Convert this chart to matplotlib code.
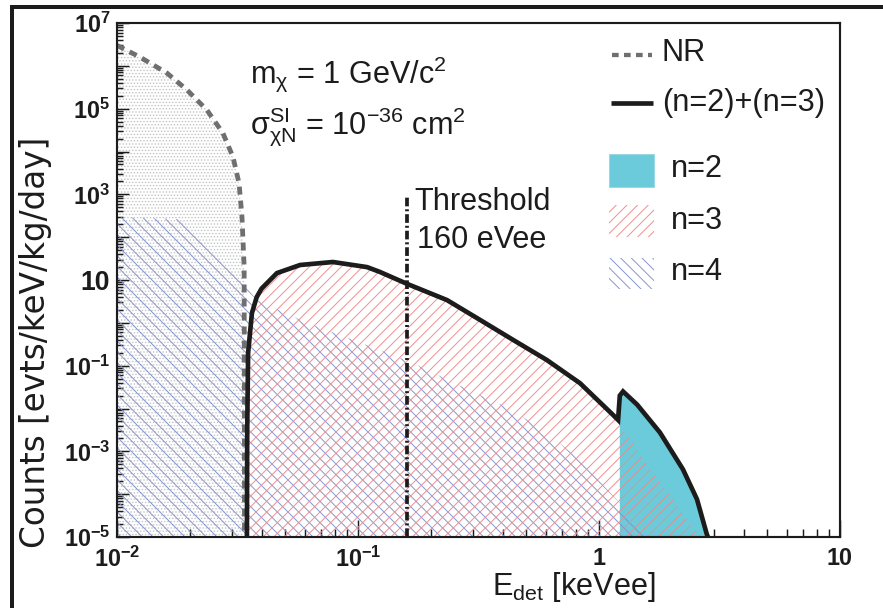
import matplotlib
matplotlib.use("Agg")
import matplotlib.pyplot as plt
from matplotlib.lines import Line2D
from matplotlib.patches import Rectangle
from matplotlib.ticker import FixedLocator, FixedFormatter, NullFormatter

# ---------------- data (E in keVee, rate in evts/keV/kg/day) ----------------
nr_energy = [0.0100, 0.01245, 0.0161, 0.0195, 0.0236, 0.0275, 0.0303, 0.0321, 0.0330, 0.0337, 0.0338]
nr_rate = [3.0e6, 1.6e6, 6.8e5, 2.75e5, 9.3e4, 2.7e4, 7.4e3, 1.8e3, 3.0e2, 2.0e1, 1e-5]

n4_energy = [0.0100, 0.0182, 0.0207, 0.0333, 0.0381, 0.0614, 0.0953, 0.123, 0.169, 0.273, 0.440, 0.644, 0.834, 1.19, 1.63]
n4_rate = [295, 263, 148, 8.5, 3.4, 1.0, 0.40, 0.234, 0.115, 0.0316, 9.1e-3, 2.1e-3, 6.3e-4, 7.2e-5, 1e-5]

n3_energy = [0.0346, 0.0347, 0.0350, 0.0363, 0.0380, 0.0398, 0.0461, 0.0575, 0.0787, 0.109, 0.123,
             0.160, 0.234, 0.321, 0.440, 0.608, 0.834, 1.143, 1.20, 1.22, 1.79, 2.62]
n3_rate = [1e-5, 3.2e-3, 0.20, 1.7, 4.0, 6.3, 14.5, 22.4, 26.3, 20.0, 15.5,
           8.1, 3.4, 1.17, 0.40, 0.135, 0.039, 7.1e-3, 5.4e-3, 4.0e-3, 1.95e-4, 1e-5]

n2_energy = [1.22, 1.258, 1.44, 1.79, 2.23, 2.55, 2.80, 2.83]
n2_rate = [0.020, 0.025, 0.0123, 2.75e-3, 3.8e-4, 7.6e-5, 1.17e-5, 1e-5]

threshold_kev = 0.16
threshold_top = 9e2

x_range = (0.01, 10.0)
y_range = (1e-5, 1e7)

x_major = [0.01, 0.1, 1.0, 10.0]
x_labels = [r"$\mathbf{10^{-2}}$", r"$\mathbf{10^{-1}}$", "1", "10"]
y_major = [10.0 ** k for k in range(-5, 8)]
y_labels = {7: r"$\mathbf{10^{7}}$", 5: r"$\mathbf{10^{5}}$", 3: r"$\mathbf{10^{3}}$", 1: "10",
            -1: r"$\mathbf{10^{-1}}$", -3: r"$\mathbf{10^{-3}}$", -5: r"$\mathbf{10^{-5}}$"}

# ---------------- style ----------------
W, H, DPI = 883, 608, 96
plt.rcParams.update({
    "font.family": ["Liberation Sans", "DejaVu Sans"],
    "mathtext.fontset": "custom",
    "mathtext.rm": "Liberation Sans",
    "mathtext.it": "Liberation Sans:italic",
    "mathtext.bf": "Liberation Sans:bold",
    "hatch.linewidth": 0.7,
    "lines.scale_dashes": False,
})

INK = "#1c1c1c"
CYAN = "#6ccbdb"
RED_HATCH = "#ef8a8a"
BLUE_HATCH = "#8392cc"
NR_GREY = "#6f6f6f"
RED_PATTERN = "///"
BLUE_PATTERN = "\\\\\\"


def fx(px):
    return px / W


def fy(py):
    return 1.0 - py / H


fig = plt.figure(figsize=(W / DPI, H / DPI), dpi=DPI)
ax = fig.add_axes([fx(117), fy(537), fx(840) - fx(117), fy(23) - fy(537)])
ax.set_xscale("log")
ax.set_yscale("log")
ax.set_xlim(*x_range)
ax.set_ylim(*y_range)

# NR spectrum: stippled area under the dashed curve
ax.fill_between(nr_energy, y_range[0], nr_rate, facecolor="none", edgecolor="#c4c4c4",
                hatch=".....", linewidth=0, zorder=1)
# n=2 solid fill
ax.fill_between(n2_energy, y_range[0], n2_rate, facecolor=CYAN, edgecolor="none",
                linewidth=0, zorder=2)
# n=4 and n=3 hatched areas
ax.fill_between(n4_energy, y_range[0], n4_rate, facecolor="none", edgecolor=BLUE_HATCH,
                hatch=BLUE_PATTERN, linewidth=0, zorder=3)
ax.fill_between(n3_energy, y_range[0], n3_rate, facecolor="none", edgecolor=RED_HATCH,
                hatch=RED_PATTERN, linewidth=0, zorder=4)

# NR dashed curve
ax.plot(nr_energy, nr_rate, color=NR_GREY, lw=3.6, dashes=(6, 4.5), solid_capstyle="butt",
        dash_capstyle="butt", zorder=5)

# (n=2)+(n=3): n=3 below the n=2 onset, then the n=2 dominated part
onset = n2_energy[0]
sum_energy = [e for e in n3_energy if e < onset] + n2_energy
sum_rate = [r for e, r in zip(n3_energy, n3_rate) if e < onset] + n2_rate
ax.plot(sum_energy, sum_rate, color=INK, lw=3.5, solid_joinstyle="miter", zorder=6)

# analysis threshold
ax.vlines(threshold_kev, y_range[0], threshold_top, colors=INK, lw=2.8,
          linestyles=[(0, (6.5, 2.2, 1.5, 2.2))], zorder=7)
fig.text(fx(414), fy(210), "Threshold", fontsize=23, color=INK, ha="left", va="baseline")
fig.text(fx(417), fy(248), "160 eVee", fontsize=23, color=INK, ha="left", va="baseline")

# benchmark parameters
fig.text(fx(250), fy(83), r"m$_{\mathrm{\chi}}$ = 1 GeV/c$^{2}$",
         fontsize=23, color=INK, ha="left", va="baseline")
fig.text(fx(250), fy(134), r"$\mathrm{\sigma}^{\mathrm{SI}}_{\mathrm{\chi N}}$ = 10$^{-36}$ cm$^{2}$",
         fontsize=23, color=INK, ha="left", va="baseline")

# ---------------- axes cosmetics ----------------
for s in ax.spines.values():
    s.set_linewidth(1.6)
    s.set_color(INK)
    s.set_zorder(10)

ax.xaxis.set_major_locator(FixedLocator(x_major))
ax.xaxis.set_major_formatter(FixedFormatter(x_labels))
x_minor = [m * 10.0 ** k for k in range(-2, 1) for m in range(2, 10)]
ax.xaxis.set_minor_locator(FixedLocator(x_minor))
ax.xaxis.set_minor_formatter(NullFormatter())

ax.yaxis.set_major_locator(FixedLocator(y_major))
ax.yaxis.set_major_formatter(FixedFormatter([y_labels.get(k, "") for k in range(-5, 8)]))
y_minor = [m * 10.0 ** k for k in range(-5, 7) for m in range(2, 10)]
ax.yaxis.set_minor_locator(FixedLocator(y_minor))
ax.yaxis.set_minor_formatter(NullFormatter())

ax.tick_params(axis="both", which="both", direction="in", top=False, right=False,
               colors=INK, width=1.1)
ax.tick_params(axis="x", which="major", length=12.5, pad=7.5, labelsize=17.5)
ax.tick_params(axis="x", which="minor", length=6)
ax.tick_params(axis="y", which="major", length=9, pad=5, labelsize=17.5)
ax.tick_params(axis="y", which="minor", length=4.5)
for lab in ax.get_xticklabels() + ax.get_yticklabels():
    lab.set_fontweight("bold")
for lab in ax.get_yticklabels():
    if lab.get_text() == "10":
        lab.set_fontsize(20)

fig.text(fx(492), fy(595), r"E$_{\mathrm{det}}$ [keVee]", fontsize=23, color=INK,
         ha="left", va="baseline")
fig.text(fx(52), fy(548), "Counts [evts/keV/kg/day]", fontsize=24.5, color=INK,
         family="DejaVu Sans", rotation=90, ha="right", va="bottom")

# ---------------- legend ----------------
fig.add_artist(Line2D([fx(612), fx(652)], [fy(55), fy(55)], color=NR_GREY, lw=3.2,
                      dashes=(5, 4), dash_capstyle="butt"))
fig.text(fx(662), fy(53), "NR", fontsize=23, color=INK, ha="left", va="center")
fig.add_artist(Line2D([fx(611), fx(653)], [fy(103), fy(103)], color=INK, lw=3.5,
                      solid_capstyle="butt"))
fig.text(fx(662), fy(103), "(n=2)+(n=3)", fontsize=23, color=INK, ha="left", va="center")

swatches = [(154, 187, dict(facecolor=CYAN, edgecolor="#9ad9e4", linewidth=0.8), "n=2", 169),
            (205, 237, dict(facecolor="none", edgecolor=RED_HATCH, hatch=RED_PATTERN, linewidth=0), "n=3", 221),
            (258, 289, dict(facecolor="none", edgecolor=BLUE_HATCH, hatch=BLUE_PATTERN, linewidth=0), "n=4", 272)]
for top, bot, kw, label, ty in swatches:
    fig.add_artist(Rectangle((fx(609), fy(bot)), fx(654) - fx(609), fy(top) - fy(bot),
                             transform=fig.transFigure, **kw))
    fig.text(fx(671), fy(ty), label, fontsize=23, color=INK, ha="left", va="center")

# outer frame of the canvas
fig.add_artist(Line2D([fx(10), 1.0], [fy(7), fy(7)], color=INK, lw=3.0, solid_capstyle="butt"))
fig.add_artist(Line2D([fx(12), fx(12)], [fy(6), 0.0], color=INK, lw=3.0, solid_capstyle="butt"))

fig.savefig("out.png", dpi=DPI)
